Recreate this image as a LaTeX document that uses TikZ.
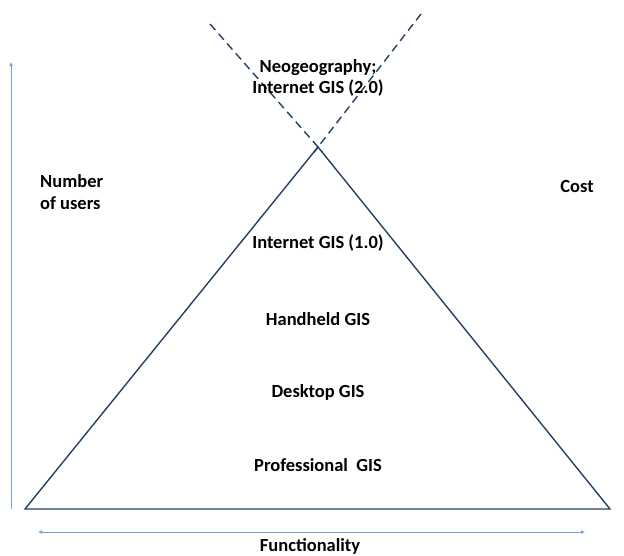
\documentclass[tikz,border=0pt]{standalone}
\usepackage{fontspec}
\setmainfont{Carlito}
\usetikzlibrary{arrows.meta, calc}
\definecolor{pyramidblue}{RGB}{36, 64, 98}
\definecolor{axisblue}{RGB}{120, 160, 215}

\begin{document}
\begin{tikzpicture}[x=1pt, y=-1pt,
  label/.style={font=\fontsize{18.5}{21.5}\selectfont\bfseries, align=center, inner sep=1pt},
  edge/.style={pyramidblue, line width=1.4pt},
  axis/.style={axisblue, line width=1pt}]
  % Frame of the picture
  \useasboundingbox (0,0) rectangle (624,555);

  % Corners of the pyramid
  \coordinate (apex) at (318,147);
  \coordinate (baseL) at (25,509);
  \coordinate (baseR) at (610,509);
  \coordinate (openL) at (210,24);
  \coordinate (openR) at (421,14);

  % Pyramid
  \draw[edge, line join=miter] (apex) -- (baseL) -- (baseR) -- cycle;

  % Opening cone above the apex
  \draw[edge, dash pattern=on 8pt off 5pt] (openL) -- ($(apex)!-0.04!(openL)$);
  \draw[edge, dash pattern=on 8pt off 5pt] (openR) -- ($(apex)!-0.04!(openR)$);

  % Axes
  \coordinate (usersFoot) at (11,509);
  \coordinate (usersTip) at (11,62);
  \coordinate (funcL) at (38,532);
  \coordinate (funcR) at (585,532);
  \draw[axis, -{Latex[length=4pt, width=4pt]}] (usersFoot) -- (usersTip);
  \draw[axis, {Latex[length=4pt, width=4pt]}-{Latex[length=4pt, width=4pt]}] (funcL) -- (funcR);

  % Labels
  \node[label] (neo) at (318,78) {Neogeography;\\Internet GIS (2.0)};
  \node[label, align=left, anchor=west] (users) at (39,192) {Number\\of users};
  \node[label] (cost) at (577,186) {Cost};
  \node[label] (web) at (318,243) {Internet GIS (1.0)};
  \node[label] (hand) at (318,319) {Handheld GIS};
  \node[label] (desk) at (318,392) {Desktop GIS};
  \node[label] (pro) at (318,465) {Professional\ \ GIS};
  \node[label] (func) at (310,546) {Functionality};
\end{tikzpicture}
\end{document}
